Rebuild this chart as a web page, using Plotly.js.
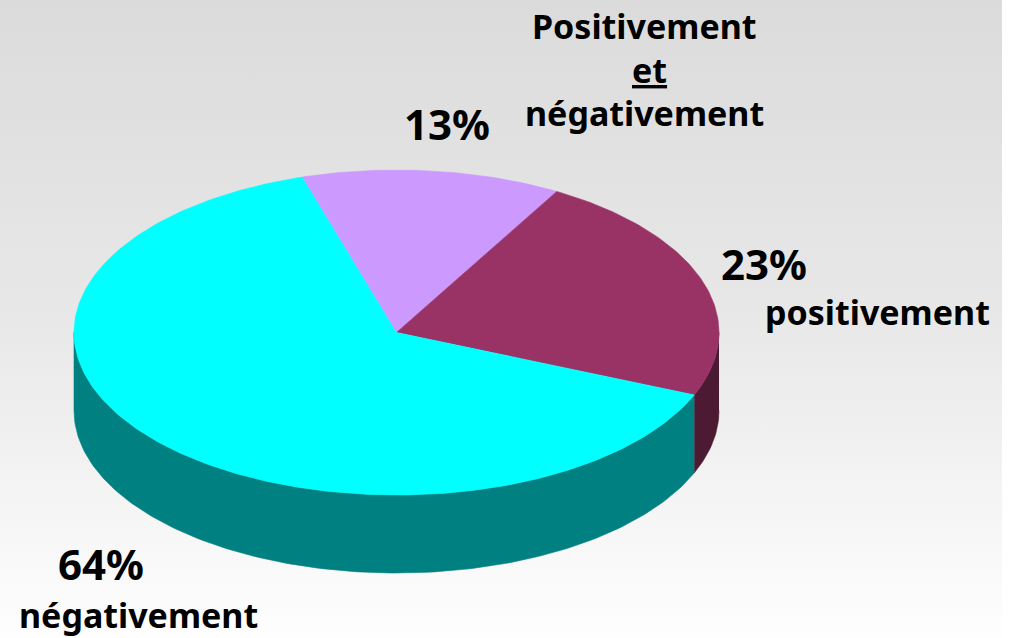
<!DOCTYPE html>
<html>
<head>
<meta charset="utf-8">
<script src="https://cdn.plot.ly/plotly-3.0.1.min.js"></script>
<style>
html,body{margin:0;padding:0;background:#fff;width:1010px;height:638px;overflow:hidden}
#bg{position:absolute;left:0;top:0;width:1002px;height:638px;background:linear-gradient(to bottom,#dbdbdb 0%,#e8e8e8 50%,#fefefe 100%)}
#chart{position:absolute;left:0;top:0;width:1010px;height:638px}
</style>
</head>
<body>
<div id="bg"></div>
<div id="chart"></div>
<script>
// Data
const categories = ["Positivement et négativement", "positivement", "négativement"];
const values = [13, 23, 64];
const percentLabels = ["13%", "23%", "64%"];
const topColors = ["#cc99ff", "#993366", "#00ffff"];
const wallColors = ["#66497f", "#4d1a33", "#008080"];

// Pie geometry (image units)
const startAngle = -17, cx = 396.5, cy = 332.5, rx = 322.5, ry = 162.5, depth = 78;

function pt(a, dy) {
  const r = a * Math.PI / 180;
  return [cx + rx * Math.sin(r), cy - ry * Math.cos(r) + dy];
}
function arc(a0, a1, dy) {
  const n = Math.max(2, Math.ceil(Math.abs(a1 - a0)));
  const out = [];
  for (let i = 0; i <= n; i++) out.push(pt(a0 + (a1 - a0) * i / n, dy));
  return out;
}
function poly(points, color, name) {
  return {
    type: "scatter", mode: "lines", fill: "toself", fillcolor: color,
    x: points.map(p => p[0]), y: points.map(p => p[1]),
    line: {color: color, width: 0.6}, hoverinfo: "name", name: name, showlegend: false
  };
}

const total = values.reduce((a, b) => a + b, 0);
const walls = [], tops = [];
let a = startAngle;
values.forEach((v, i) => {
  const a0 = a, a1 = a + v / total * 360;
  a = a1;
  // the near side of the cake lies between 90 and 270 degrees
  const w0 = Math.max(a0, 90), w1 = Math.min(a1, 270);
  if (w1 > w0) {
    walls.push(poly(arc(w0, w1, 0).concat(arc(w1, w0, depth)), wallColors[i], categories[i]));
  }
  tops.push(poly([[cx, cy]].concat(arc(a0, a1, 0)), topColors[i], categories[i]));
});

const font = '"Noto Sans", sans-serif';
function note(text, x, y, size) {
  return {text: "<b>" + text + "</b>", x: x, y: y, xref: "x", yref: "y", showarrow: false,
    xanchor: "center", yanchor: "middle", font: {family: font, size: size, color: "#000"}};
}
const annotations = [
  note("Positivement", 644, 26, 34),
  note("<u>et</u>", 649, 70, 34),
  note("négativement", 644, 113, 34),
  note(percentLabels[0], 447, 123, 42),
  note(percentLabels[1], 764, 263, 42),
  note("positivement", 877, 312, 34),
  note(percentLabels[2], 101, 563, 42),
  note("négativement", 138, 615, 34)
];

Plotly.newPlot("chart", walls.concat(tops), {
  width: 1010, height: 638,
  margin: {l: 0, r: 0, t: 0, b: 0},
  paper_bgcolor: "rgba(0,0,0,0)", plot_bgcolor: "rgba(0,0,0,0)",
  xaxis: {range: [0, 1010], visible: false, fixedrange: true},
  yaxis: {range: [638, 0], visible: false, fixedrange: true},
  annotations: annotations,
  showlegend: false
}, {displayModeBar: false, staticPlot: true});
</script>
</body>
</html>
